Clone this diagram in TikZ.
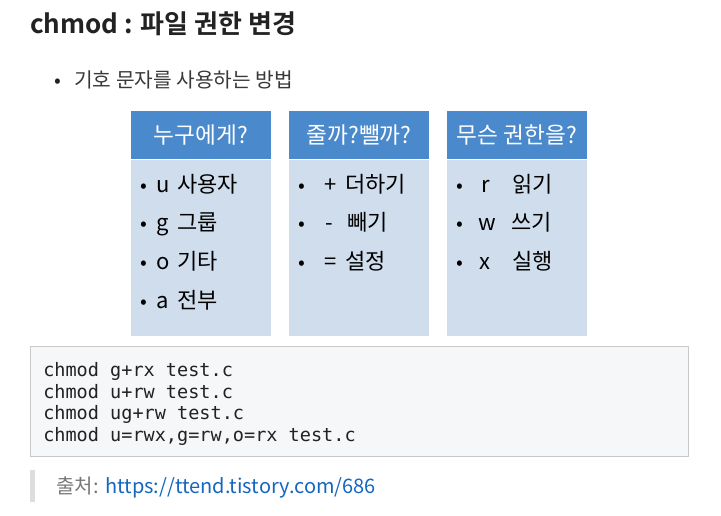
\documentclass[tikz,border=0pt]{standalone}
\usepackage{fontspec}
\usepackage{xcolor}
\usepackage{tikz}
\usetikzlibrary{positioning}
\setmainfont{Noto Sans CJK KR}[BoldFont={* Bold}]
\newfontfamily\codefont{DejaVu Sans Mono}
\definecolor{permhead}{HTML}{4A89CC}
\definecolor{permbody}{HTML}{CFDDED}
\definecolor{pagetext}{HTML}{222222}
\definecolor{codebg}{HTML}{F6F7F8}
\definecolor{codeline}{HTML}{C9C9C9}
\definecolor{quotebar}{HTML}{DDDDDD}
\definecolor{quotegray}{HTML}{777777}
\definecolor{linkblue}{HTML}{1467C0}

\begin{document}
\begin{tikzpicture}[x=0.75pt, y=-0.75pt,
  titletext/.style={anchor=base west, inner sep=0pt, text=pagetext, font=\fontsize{19.5}{22}\selectfont\bfseries},
  pagetextnode/.style={anchor=base west, inner sep=0pt, text=pagetext!90, font=\fontsize{15.2}{17}\selectfont},
  headbox/.style={fill=permhead, text=white, minimum width=105pt, minimum height=36pt, inner sep=0pt, font=\fontsize{17}{19}\selectfont},
  bodybox/.style={fill=permbody, minimum width=105pt, minimum height=132pt, inner sep=0pt},
  itemtext/.style={anchor=base west, inner sep=0pt, text=black, font=\fontsize{16.5}{18}\selectfont},
  dottext/.style={anchor=base, inner sep=0pt, text=black, font=\fontsize{15}{17}\selectfont},
  codebox/.style={fill=codebg, draw=codeline, line width=0.6pt, minimum width=494pt, minimum height=82pt, inner sep=0pt},
  codetext/.style={anchor=base west, inner sep=0pt, text=pagetext, font=\codefont\fontsize{13.9}{16}\selectfont}
]
  \useasboundingbox (0,0) rectangle (721,516);

  % heading and bullet line
  \node[titletext] (title) at (30,34) {chmod : 파일 권한 변경};
  \node[dottext, text=pagetext] (introdot) at (58,88) {•};
  \node[pagetextnode] (intro) at (74,88) {기호 문자를 사용하는 방법};

  % three permission boxes
  \node[headbox] (who) at (201,135) {누구에게?};
  \node[bodybox, below=0pt of who] (whobody) {};
  \node[headbox] (how) at (359,135) {줄까?뺄까?};
  \node[bodybox, below=0pt of how] (howbody) {};
  \node[headbox] (what) at (517,135) {무슨 권한을?};
  \node[bodybox, below=0pt of what] (whatbody) {};

  \node[dottext] (whod1) at (144,193) {•};
  \node[itemtext] (whok1) at (156,193) {u};
  \node[itemtext] (who1) at (177,193) {사용자};
  \node[dottext] (whod2) at (144,231) {•};
  \node[itemtext] (whok2) at (156,231) {g};
  \node[itemtext] (who2) at (177,231) {그룹};
  \node[dottext] (whod3) at (144,270) {•};
  \node[itemtext] (whok3) at (156,270) {o};
  \node[itemtext] (who3) at (177,270) {기타};
  \node[dottext] (whod4) at (144,309) {•};
  \node[itemtext] (whok4) at (156,309) {a};
  \node[itemtext] (who4) at (177,309) {전부};

  \node[dottext] (howd1) at (302,193) {•};
  \node[itemtext] (howk1) at (324,193) {+};
  \node[itemtext] (how1) at (345,193) {더하기};
  \node[dottext] (howd2) at (302,231) {•};
  \node[itemtext] (howk2) at (325,231) {-};
  \node[itemtext] (how2) at (347,231) {빼기};
  \node[dottext] (howd3) at (302,270) {•};
  \node[itemtext] (howk3) at (324,270) {=};
  \node[itemtext] (how3) at (345,270) {설정};

  \node[dottext] (whatd1) at (460,193) {•};
  \node[itemtext] (whatk1) at (481,193) {r};
  \node[itemtext] (what1) at (512,193) {읽기};
  \node[dottext] (whatd2) at (460,231) {•};
  \node[itemtext] (whatk2) at (478,231) {w};
  \node[itemtext] (what2) at (511,231) {쓰기};
  \node[dottext] (whatd3) at (460,270) {•};
  \node[itemtext] (whatk3) at (479,270) {x};
  \node[itemtext] (what3) at (512,270) {실행};

  % code block
  \node[codebox] (code) at (359.5,401.5) {};
  \node[codetext] (code1) at (43,377) {chmod g+rx test.c};
  \node[codetext] (code2) at (43,398) {chmod u+rw test.c};
  \node[codetext] (code3) at (43,420) {chmod ug+rw test.c};
  \node[codetext] (code4) at (43,441) {chmod u=rwx,g=rw,o=rx test.c};

  % source quote
  \fill[quotebar] (30,470) rectangle (35,502);
  \node[anchor=base west, inner sep=0pt, text=quotegray, font=\fontsize{15}{17}\selectfont] (srclabel) at (56,493) {출처:};
  \node[anchor=base west, inner sep=0pt, text=linkblue, font=\fontsize{15}{17}\selectfont] (srclink) at (105,493) {https://ttend.tistory.com/686};
\end{tikzpicture}
\end{document}
